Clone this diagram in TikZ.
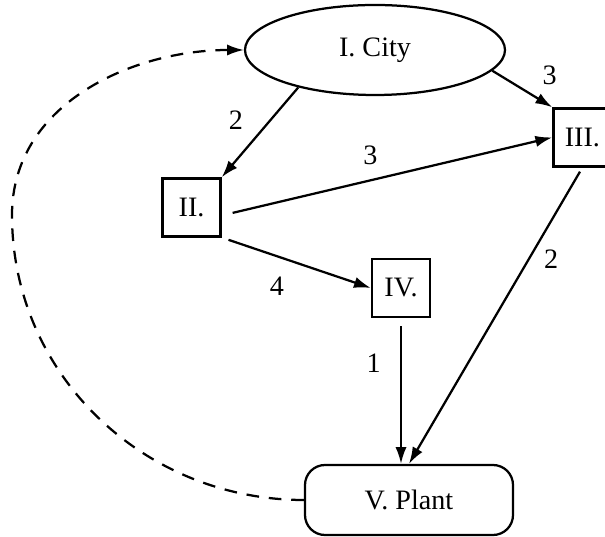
\documentclass[tikz,border=0pt]{standalone}
\usepackage{fontspec}
\setmainfont{Liberation Serif}
\usetikzlibrary{arrows.meta,positioning,shapes.geometric,calc}
\tikzset{
    -{Latex[length=12pt,width=8pt]},auto,
    city/.style ={ellipse, draw, minimum width=6.5cm, minimum height=2.25cm, inner sep=0pt},
    stage/.style ={rectangle, draw, minimum size=1.45cm, inner sep=0pt},
    plant/.style ={rectangle, draw, rounded corners=0.5cm, minimum width=5.2cm, minimum height=1.75cm},
    el/.style = {inner sep=0pt},
    feedback/.style={dash pattern=on 9pt off 7pt}
}
\begin{document}
\begin{tikzpicture}[font=\fontsize{20}{24}\selectfont, line width=1.6pt]
    \useasboundingbox (0,0) rectangle (15.125,13.425);
    \node[city] (city) at (9.375,12.175) {I. City};
    \node[stage] (ii) at (4.79,8.24) {II.};
    \node[stage] (iii) at (14.56,9.99) {III.};
    \node[stage] (iv) at (10.025,6.225) {IV.};
    \node[plant] (plant) at (10.225,0.925) {V. Plant};
    \coordinate (bend) at (0.3,8.05);

    \path (city.206) edge node[el, pos=0.37, left=0.65cm] (w12) {2} (ii.north east);
    \path (city.350) edge node[el, pos=0.6, above right=0.18cm and 0.33cm] (w13) {3} (iii.north west);
    \path (ii.-15) edge[shorten <=0.28cm] node[el, pos=0.45, above=0.35cm] (w23) {3} (iii.west);
    \path (ii.south east) edge[shorten <=0.18cm] node[el, pos=0.37, below=0.5cm] (w24) {4} (iv.west);
    \path (iv.south) edge[shorten <=0.2cm] node[el, pos=0.31, left=0.48cm] (w45) {1} (iv.south |- plant.north);
    \path (iii.south) edge[shorten <=0.12cm] node[el, pos=0.31, right=0.36cm] (w35) {2} (plant.north);
    \draw[feedback] (plant.west) to[out=180,in=270] (bend) to[out=90,in=180] (city.west);

\end{tikzpicture}
\end{document}
